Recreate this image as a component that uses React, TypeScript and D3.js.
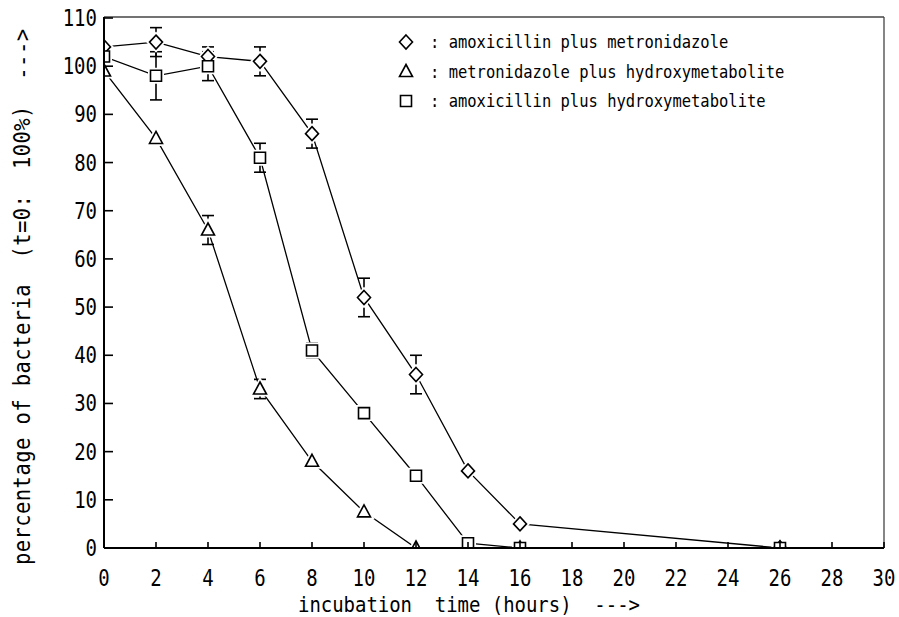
import React from 'react';
import * as d3 from 'd3';

// incubation times (hours)
const hours = [0, 2, 4, 6, 8, 10, 12, 14, 16, 26];

// percentage of bacteria
const amoxMetro = [104, 105, 102, 101, 86, 52, 36, 16, 5, 0];
const amoxMetroErr = [0, 3, 2, 3, 3, 4, 4, 0, 0, 0];
const metroHydroxy = [99, 85, 66, 33, 18, 7.5, 0, 0, 0, 0];
const metroHydroxyErr = [0, 0, 3, 2, 0, 0, 0, 0, 0, 0];
const amoxHydroxy = [102, 98, 100, 81, 41, 28, 15, 1, 0, 0];
const amoxHydroxyErr = [0, 5, 3, 3, 1.5, 0, 0, 0, 0, 0];

const seriesNames = [
  'amoxicillin plus metronidazole',
  'metronidazole plus hydroxymetabolite',
  'amoxicillin plus hydroxymetabolite',
];
const symbols = ['diamond', 'triangle', 'square'];

const xTicks = d3.range(0, 31, 2);
const yTicks = d3.range(0, 111, 10);

const W = 899;
const H = 617;
const left = 104;
const right = 884;
const top = 18;
const bottom = 548;
const FONT = '"DejaVu Sans Mono", monospace';

const x = d3.scaleLinear().domain([0, 30]).range([left, right]);
const y = d3.scaleLinear().domain([0, 110]).range([bottom, top]);

const markerPath = (kind: string) => {
  if (kind === 'diamond') return 'M0,-7L6.5,0L0,7L-6.5,0Z';
  if (kind === 'triangle') return 'M0,-7L6.5,5L-6.5,5Z';
  return 'M-5.5,-5.5H5.5V5.5H-5.5Z';
};

const series = [
  { values: amoxMetro, errs: amoxMetroErr, sym: symbols[0] },
  { values: metroHydroxy, errs: metroHydroxyErr, sym: symbols[1] },
  { values: amoxHydroxy, errs: amoxHydroxyErr, sym: symbols[2] },
];

const line = d3
  .line<number>()
  .x((_, i) => x(hours[i]))
  .y((d) => y(d));

export default function App() {
  return (
    <svg width={W} height={H} style={{ display: 'block', position: 'absolute', left: 0, top: 0 }}>
      <rect width={W} height={H} fill="#fff" />
      <defs>
        <clipPath id="plot">
          <rect x={left} y={top - 10} width={right - left} height={bottom - top + 10} />
        </clipPath>
      </defs>

      {/* frame */}
      <line x1={left} x2={right} y1={top - 1} y2={top - 1} stroke="#444" strokeWidth={1.3} />
      <line x1={right} x2={right} y1={top - 1} y2={bottom} stroke="#444" strokeWidth={1.3} />

      <g clipPath="url(#plot)">
        {series.map((s, k) => (
          <path key={'l' + k} d={line(s.values) || ''} fill="none" stroke="#000" strokeWidth={1.3} />
        ))}
        {series.map((s, k) =>
          s.values.map((v, i) =>
            s.errs[i] > 0 ? (
              <g key={'e' + k + '-' + i} stroke="#000" strokeWidth={1.6}>
                <line x1={x(hours[i])} x2={x(hours[i])} y1={y(v - s.errs[i])} y2={y(v + s.errs[i])} />
                <line x1={x(hours[i]) - 6} x2={x(hours[i]) + 6} y1={y(v + s.errs[i])} y2={y(v + s.errs[i])} />
                <line x1={x(hours[i]) - 6} x2={x(hours[i]) + 6} y1={y(v - s.errs[i])} y2={y(v - s.errs[i])} />
              </g>
            ) : null
          )
        )}
        {series.map((s, k) =>
          s.values.map((v, i) => (
            <path
              key={'h' + k + '-' + i}
              transform={`translate(${x(hours[i])},${y(v)})`}
              d={markerPath(s.sym)}
              fill="#fff"
              stroke="#fff"
              strokeWidth={5}
            />
          ))
        )}
        {series.map((s, k) =>
          s.values.map((v, i) => (
            <path
              key={'m' + k + '-' + i}
              transform={`translate(${x(hours[i])},${y(v)})`}
              d={markerPath(s.sym)}
              fill="#fff"
              stroke="#000"
              strokeWidth={1.6}
            />
          ))
        )}
      </g>

      {/* axes */}
      <line x1={left} x2={left} y1={top - 1} y2={bottom} stroke="#000" strokeWidth={2} />
      <line x1={left} x2={right} y1={bottom} y2={bottom} stroke="#000" strokeWidth={2} />
      {yTicks.map((t) => (
        <g key={'yt' + t}>
          <line x1={left} x2={left + 9} y1={y(t)} y2={y(t)} stroke="#000" strokeWidth={1.6} />
          <text
            transform={`translate(${left - 7},${y(t) + 8}) scale(1,1.25)`}
            textAnchor="end"
            fontFamily={FONT}
            fontSize={19}
          >
            {t}
          </text>
        </g>
      ))}
      {xTicks.map((t) => (
        <g key={'xt' + t}>
          <line x1={x(t)} x2={x(t)} y1={bottom} y2={bottom - 6} stroke="#000" strokeWidth={1.6} />
          <text
            transform={`translate(${x(t)},${bottom + 38}) scale(1,1.25)`}
            textAnchor="middle"
            fontFamily={FONT}
            fontSize={19}
          >
            {t}
          </text>
        </g>
      ))}

      {/* axis titles */}
      <text
        transform={`translate(298,612) scale(1,1.15)`}
        fontFamily={FONT}
        fontSize={19}
        textLength={342}
        lengthAdjust="spacing"
        xmlSpace="preserve"
      >
        {'incubation  time (hours)  --->'}
      </text>
      <text
        transform={`translate(30,565) rotate(-90) scale(1,1.1)`}
        fontFamily={FONT}
        fontSize={20.5}
        textLength={536}
        lengthAdjust="spacing"
        xmlSpace="preserve"
      >
        {'percentage of bacteria  (t=0:  100%)  --->'}
      </text>

      {/* legend */}
      {seriesNames.map((name, i) => (
        <g key={'lg' + i} transform={`translate(406,${42 + i * 29.5})`}>
          <path d={markerPath(symbols[i])} fill="#fff" stroke="#000" strokeWidth={1.6} />
          <text
            transform={`translate(24,6) scale(1,1.15)`}
            fontFamily={FONT}
            fontSize={15.5}
            xmlSpace="preserve"
          >
            {': ' + name}
          </text>
        </g>
      ))}
    </svg>
  );
}
